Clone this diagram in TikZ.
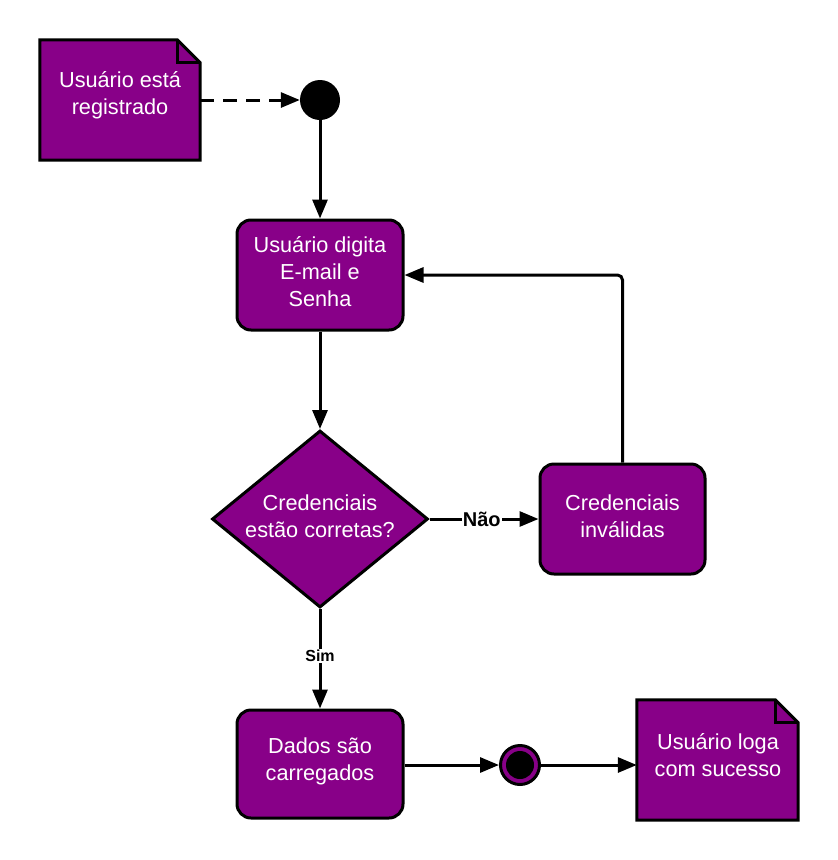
\documentclass[tikz,border=0pt]{standalone}
\usepackage{fontspec}
\setmainfont{Liberation Sans}
\usetikzlibrary{shapes.geometric,arrows.meta}
\definecolor{umlpurple}{RGB}{136,0,136}
\begin{document}
\begin{tikzpicture}[x=1pt,y=-1pt,
  txt/.style={text=white,font=\fontsize{21.7}{27}\selectfont,align=center},
  notebox/.style={minimum width=160pt,minimum height=120pt,inner sep=0pt,txt},
  actbox/.style={draw=black,fill=umlpurple,line width=3pt,rounded corners=14pt,
    minimum width=166pt,minimum height=110pt,inner sep=0pt,txt},
  arr/.style={line width=3pt,-{Triangle[length=19pt,width=15pt]}},
  lbl/.style={fill=white,inner sep=1pt,font=\bfseries}]
\useasboundingbox (0,0) rectangle (838,860);
% note 1
\node[notebox] (n1) at (120,100) {};
\filldraw[fill=umlpurple,draw=black,line width=3pt,line join=miter]
  (n1.south west) -- (n1.north west) -- ([xshift=-23pt]n1.north east)
  -- ([yshift=-23pt]n1.north east) -- (n1.south east) -- cycle;
\draw[line width=3pt,line join=miter] ([xshift=-23pt]n1.north east)
  -- ([xshift=-23pt,yshift=-23pt]n1.north east) -- ([yshift=-23pt]n1.north east);
\node[txt] (n1t) at (120,95) {Usuário está\\registrado};
% start
\node[circle,fill=black,minimum size=40pt,inner sep=0pt] (start) at (320,100) {};
% boxes
\node[actbox] (b1) at (320,275) {};
\node[txt] (b1t) at (320,272) {Usuário digita\\E-mail e\\Senha};
\node[diamond,draw=black,fill=umlpurple,line width=3pt,minimum width=216pt,
  minimum height=177pt,inner sep=0pt] (d) at (320,519) {};
\node[txt] (dt) at (320,516) {Credenciais\\estão corretas?};
\node[actbox,minimum width=165pt] (b2) at (622.5,519) {};
\node[txt] (b2t) at (622.5,516) {Credenciais\\inválidas};
\node[actbox,minimum height=108pt] (b3) at (320,764) {};
\node[txt] (b3t) at (320,761) {Dados são\\carregados};
% final
\node[circle,draw=black,fill=umlpurple,line width=3pt,minimum size=39pt,inner sep=0pt] (fin) at (520,765) {};
\node[circle,fill=black,minimum size=28pt,inner sep=0pt] (finc) at (fin.center) {};
% note 2
\node[notebox,minimum width=161pt] (n2) at (717.5,760) {};
\filldraw[fill=umlpurple,draw=black,line width=3pt,line join=miter]
  (n2.south west) -- (n2.north west) -- ([xshift=-23pt]n2.north east)
  -- ([yshift=-23pt]n2.north east) -- (n2.south east) -- cycle;
\draw[line width=3pt,line join=miter] ([xshift=-23pt]n2.north east)
  -- ([xshift=-23pt,yshift=-23pt]n2.north east) -- ([yshift=-23pt]n2.north east);
\node[txt] (n2t) at (718,755) {Usuário loga\\com sucesso};
% connectors
\draw[arr,dashed,dash pattern=on 14pt off 9pt] (n1.east|-start) -- (start);
\draw[arr] (start) -- (b1);
\draw[arr] (b1) -- (d);
\draw[arr] (d.east) -- node[lbl,font=\bfseries\fontsize{20}{22}\selectfont,pos=0.48] (nao) {Não} (b2.west);
\draw[arr,rounded corners=5pt] (b2.north) |- (b1.east);
\draw[arr] (d.south) -- node[lbl,font=\bfseries\fontsize{16}{18}\selectfont,pos=0.47] (sim) {Sim} (b3.north);
\draw[arr] (b3.east|-fin) -- (fin);
\draw[arr] (fin) -- (n2.west|-fin);
\end{tikzpicture}
\end{document}
